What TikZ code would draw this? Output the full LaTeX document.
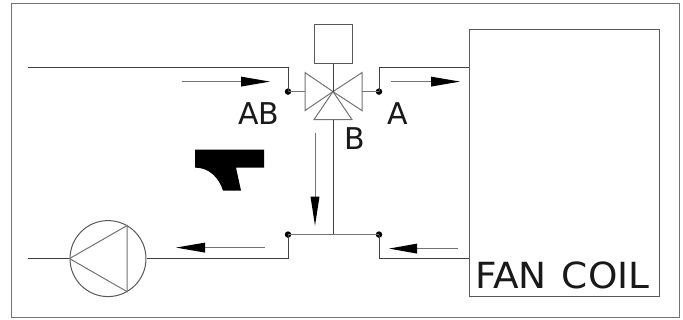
\documentclass[tikz,border=0pt]{standalone}
\usepackage{fontspec}
\setmainfont{DejaVu Sans}
\begin{document}
\begin{tikzpicture}[x=1pt,y=-1pt,
  ln/.style={draw=black!75,line width=1pt,line join=miter},
  thin line/.style={draw=black!55,line width=1pt},
  junction/.style={circle,fill=black,inner sep=0pt,minimum size=6.5pt},
  lbl/.style={inner sep=0pt,text=black!90,anchor=base west,font=\fontsize{30}{30}\selectfont},
  flow/.style={fill=black,draw=none}]
\useasboundingbox (0,-0.6) rectangle (683,319.4);
\fill[white] (0,-0.6) rectangle (683,319.4);
\draw[thin line] (11,3) rectangle (679,317);
% coordinates
\coordinate (vc) at (333,91);
\coordinate (inL) at (28,67);
\coordinate (inC) at (288,67);
\coordinate (outC) at (379,67);
\coordinate (coilT) at (469,67);
\coordinate (retR) at (379,258);
\coordinate (coilB) at (469,258);
\coordinate (retL) at (288,258);
\coordinate (pumpIn) at (28,258);
\coordinate (vL) at (305,91);
\coordinate (vR) at (362,91);
\coordinate (vB) at (333,119);
\coordinate (tee) at (333,234);
\node[junction] (jAB) at (288,91) {};
\node[junction] (jA) at (379,91) {};
\node[junction] (jBL) at (288,234) {};
\node[junction] (jBR) at (379,234) {};
\node[draw=black!65,line width=1pt,minimum width=38pt,minimum height=39pt,inner sep=0pt] (act) at (333,43.5) {};
\node[draw=black!65,line width=1pt,minimum width=190pt,minimum height=267pt,inner sep=0pt] (coil) at (564,162.5) {};
\node[circle,draw=black!65,line width=1pt,minimum size=76pt,inner sep=0pt] (pump) at (108,258) {};
% valve
\draw[thin line,line join=miter] (vc) -- (305,72) -- (305,110) -- cycle;
\draw[thin line,line join=miter] (vc) -- (362,72) -- (362,110) -- cycle;
\draw[thin line,line join=miter] (vc) -- (314,119) -- (352,119) -- cycle;
\draw[ln] (act.south) -- (vc);
\draw[thin line] (jAB.center) -- (vL);
\draw[thin line] (vR) -- (jA.center);
\draw[ln] (vB) -- (tee);
% pipes
\draw[ln] (inL) -- (inC) -- (jAB.center);
\draw[ln] (jA.center) -- (outC) -- (coilT);
\draw[thin line] (jBL.center) -- (jBR.center);
\draw[ln] (jBR.center) -- (retR) -- (coilB);
\draw[ln] (jBL.center) -- (retL) -- (pump.east);
\draw[ln] (pumpIn) -- (pump.west);
% pump triangle
\draw[thin line,line join=miter] (pump.west) -- (127,225) -- (127,291) -- cycle;
% flow arrows
\coordinate (a1s) at (182,81); \coordinate (a1h) at (241,81);
\draw[thin line] (a1s) -- (a1h);
\fill[flow] (270,81) -- (241,76) -- (241,86) -- cycle;
\coordinate (a2s) at (391,81); \coordinate (a2h) at (431,81);
\draw[thin line] (a2s) -- (a2h);
\fill[flow] (460,81) -- (431,76) -- (431,86) -- cycle;
\coordinate (a3s) at (315,132); \coordinate (a3h) at (315,196);
\draw[thin line] (a3s) -- (a3h);
\fill[flow] (315,225) -- (310.5,196) -- (319.5,196) -- cycle;
\coordinate (a4s) at (265,247); \coordinate (a4h) at (205,247);
\draw[thin line] (a4s) -- (a4h);
\fill[flow] (176,247) -- (205,242) -- (205,252) -- cycle;
\coordinate (a5s) at (458,248); \coordinate (a5h) at (417,248);
\draw[thin line] (a5s) -- (a5h);
\fill[flow] (389,248) -- (417,243) -- (417,253) -- cycle;
% black shape
\fill[black] (195,149) -- (264,149) -- (264,167) -- (236,167) -- (241,190) -- (223,190)
  .. controls (219,177) and (209,167) .. (195,167) -- cycle;
% labels
\node[lbl] (tAB) at (238,124) {AB};
\node[lbl] (tA) at (387,124) {A};
\node[lbl] (tB) at (344,149) {B};
\node[lbl,font=\fontsize{36}{36}\selectfont,xscale=1.04] (tFC) at (475,288) {FAN\hspace{3pt} COIL};
\end{tikzpicture}
\end{document}
